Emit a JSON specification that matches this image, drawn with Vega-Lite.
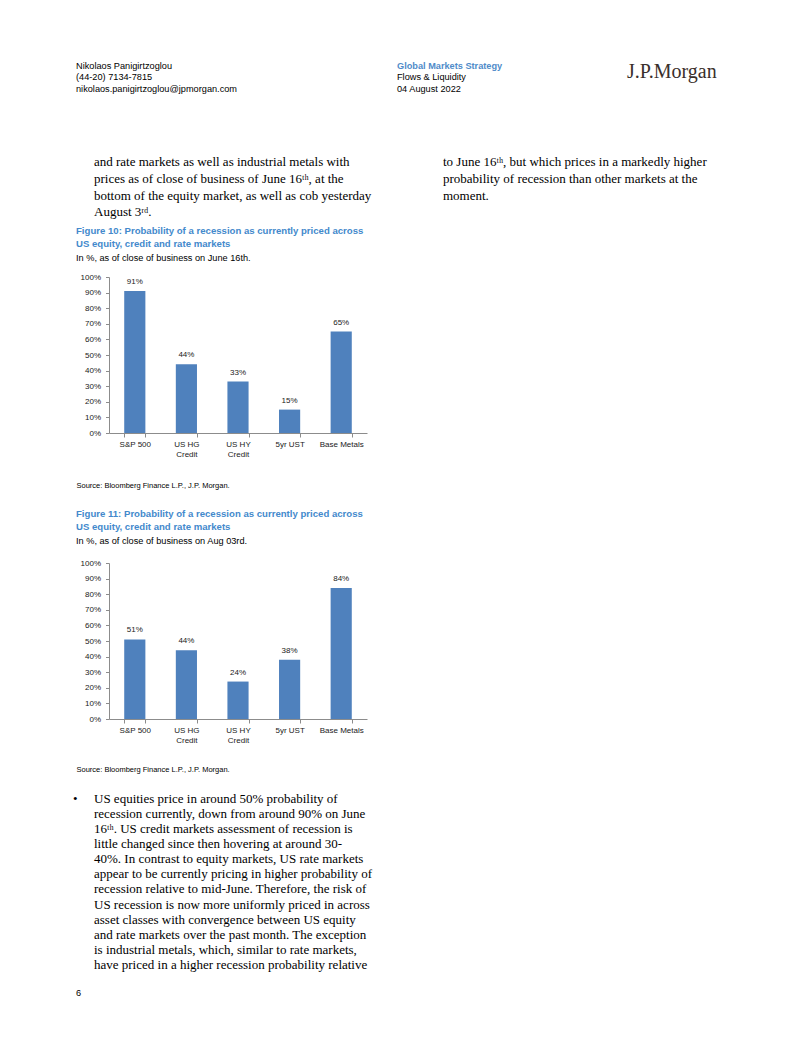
{
  "$schema": "https://vega.github.io/schema/vega-lite/v6.json",
  "background": "white",
  "autosize": {"type": "pad"},
  "padding": {"left": 73, "top": 61, "right": 5, "bottom": 5},
  "config": {
    "view": {"stroke": null},
    "font": "Liberation Sans",
    "title": {"anchor": "start", "frame": "group", "offset": 0, "color": "black", "fontWeight": "normal", "font": "Liberation Sans", "subtitleFont": "Liberation Sans"},
    "axis": {"labelFont": "Liberation Sans", "titleFont": "Liberation Sans", "labelColor": "#1a1a1a", "domainColor": "#8c8c8c", "tickColor": "#8c8c8c", "grid": false, "labelFontSize": 8}
  },
  "spacing": -10,
  "vconcat": [
    {
      "bounds": "flush",
      "spacing": 0,
      "hconcat": [
        {"width": 288, "height": 68, "data": {"values": [{}]}, "mark": "text",
         "title": {"text": ["Nikolaos Panigirtzoglou", "(44-20) 7134-7815", "nikolaos.panigirtzoglou@jpmorgan.com"], "fontSize": 9.2, "lineHeight": 11.5, "dx": -33}},
        {"width": 230, "height": 68, "data": {"values": [{}]}, "mark": "text",
         "title": {"text": "Global Markets Strategy", "color": "#4f8bc9", "fontWeight": "bold", "fontSize": 9.2, "subtitle": ["Flows & Liquidity", "04 August 2022"], "subtitleFontSize": 9.2, "subtitleColor": "black", "subtitleLineHeight": 12, "subtitlePadding": 1.5}},
        {"width": 100, "height": 68, "data": {"values": [{}]}, "mark": "text",
         "title": {"text": "J.P.Morgan", "font": "Liberation Serif", "fontSize": 20, "color": "#3a2f2b", "dy": -12}}
      ]
    },
    {
      "bounds": "flush",
      "spacing": 0,
      "hconcat": [
        {"width": 334, "height": 1, "data": {"values": [{}]}, "mark": "text",
         "title": {"text": ["and rate markets as well as industrial metals with", "prices as of close of business of June 16ᵗʰ, at the", "bottom of the equity market, as well as cob yesterday", "August 3ʳᵈ."], "font": "Liberation Serif", "fontSize": 13, "lineHeight": 16.7, "dx": -15}},
        {"width": 200, "height": 1, "data": {"values": [{}]}, "mark": "text",
         "title": {"text": ["to June 16ᵗʰ, but which prices in a markedly higher", "probability of recession than other markets at the", "moment."], "font": "Liberation Serif", "fontSize": 13, "lineHeight": 16.7, "dy": -16.7}}
      ]
    },
    {
      "spacing": 19,
      "vconcat": [
        {
          "width": 258, "height": 156,
          "title": {"text": ["Figure 10: Probability of a recession as currently priced across", "US equity, credit and rate markets"], "color": "#4389cc", "fontWeight": "bold", "fontSize": 9.6, "lineHeight": 13.3, "dx": -33, "subtitle": "In %, as of close of business on June 16th.", "subtitleColor": "black", "subtitleFontSize": 9.2, "subtitlePadding": 5, "offset": 10},
          "data": {"values": [
            {"market": "S&P 500", "prob": 0.91},
            {"market": "US HG Credit", "prob": 0.44},
            {"market": "US HY Credit", "prob": 0.33},
            {"market": "5yr UST", "prob": 0.15},
            {"market": "Base Metals", "prob": 0.65}
          ]},
          "encoding": {
            "x": {"field": "market", "type": "nominal", "sort": null,
                  "scale": {"paddingInner": 0.59, "paddingOuter": 0.295},
                  "axis": {"labelAngle": 0, "tickBand": "extent", "tickSize": 4, "labelPadding": 3, "labelLineHeight": 10.6,
                           "labelExpr": "datum.label == 'US HG Credit' ? ['US HG', 'Credit'] : datum.label == 'US HY Credit' ? ['US HY', 'Credit'] : datum.label",
                           "title": "Source: Bloomberg Finance L.P., J.P. Morgan.", "titleFontSize": 7.5, "titleFontWeight": "normal", "titleColor": "black",
                           "titleX": -33, "titleY": 48, "titleAlign": "left", "titleBaseline": "top", "titleAnchor": "start"}},
            "y": {"field": "prob", "type": "quantitative", "scale": {"domain": [0, 1]},
                  "axis": {"values": [0, 0.1, 0.2, 0.3, 0.4, 0.5, 0.6, 0.7, 0.8, 0.9, 1], "format": ".0%", "title": null, "tickSize": 3.5, "labelPadding": 5}}
          },
          "layer": [
            {"mark": {"type": "bar", "color": "#4f81bd"}},
            {"mark": {"type": "text", "baseline": "bottom", "dy": -5, "fontSize": 8, "color": "#1a1a1a"},
             "encoding": {"text": {"field": "prob", "format": ".0%"}}}
          ]
        },
        {
          "width": 258, "height": 156,
          "title": {"text": ["Figure 11: Probability of a recession as currently priced across", "US equity, credit and rate markets"], "color": "#4389cc", "fontWeight": "bold", "fontSize": 9.6, "lineHeight": 13.3, "dx": -33, "subtitle": "In %, as of close of business on Aug 03rd.", "subtitleColor": "black", "subtitleFontSize": 9.2, "subtitlePadding": 5, "offset": 13},
          "data": {"values": [
            {"market": "S&P 500", "prob": 0.51},
            {"market": "US HG Credit", "prob": 0.44},
            {"market": "US HY Credit", "prob": 0.24},
            {"market": "5yr UST", "prob": 0.38},
            {"market": "Base Metals", "prob": 0.84}
          ]},
          "encoding": {
            "x": {"field": "market", "type": "nominal", "sort": null,
                  "scale": {"paddingInner": 0.59, "paddingOuter": 0.295},
                  "axis": {"labelAngle": 0, "tickBand": "extent", "tickSize": 4, "labelPadding": 3, "labelLineHeight": 10.6,
                           "labelExpr": "datum.label == 'US HG Credit' ? ['US HG', 'Credit'] : datum.label == 'US HY Credit' ? ['US HY', 'Credit'] : datum.label",
                           "title": "Source: Bloomberg Finance L.P., J.P. Morgan.", "titleFontSize": 7.5, "titleFontWeight": "normal", "titleColor": "black",
                           "titleX": -33, "titleY": 46, "titleAlign": "left", "titleBaseline": "top", "titleAnchor": "start"}},
            "y": {"field": "prob", "type": "quantitative", "scale": {"domain": [0, 1]},
                  "axis": {"values": [0, 0.1, 0.2, 0.3, 0.4, 0.5, 0.6, 0.7, 0.8, 0.9, 1], "format": ".0%", "title": null, "tickSize": 3.5, "labelPadding": 5}}
          },
          "layer": [
            {"mark": {"type": "bar", "color": "#4f81bd"}},
            {"mark": {"type": "text", "baseline": "bottom", "dy": -5, "fontSize": 8, "color": "#1a1a1a"},
             "encoding": {"text": {"field": "prob", "format": ".0%"}}}
          ]
        },
        {
          "bounds": "flush",
          "spacing": 0,
          "hconcat": [
            {"width": 1, "height": 23, "data": {"values": [{}]}, "mark": "text",
             "title": {"text": "•", "font": "Liberation Serif", "fontSize": 13, "dx": -36, "dy": -166.1}},
            {"width": 300, "height": 23, "data": {"values": [{}]}, "mark": "text",
             "title": {"text": ["US equities price in around 50% probability of", "recession currently, down from around 90% on June", "16ᵗʰ. US credit markets assessment of recession is", "little changed since then hovering at around 30-", "40%. In contrast to equity markets, US rate markets", "appear to be currently pricing in higher probability of", "recession relative to mid-June. Therefore, the risk of", "US recession is now more uniformly priced in across", "asset classes with convergence between US equity", "and rate markets over the past month. The exception", "is industrial metals, which, similar to rate markets,", "have priced in a higher recession probability relative"], "font": "Liberation Serif", "fontSize": 13, "lineHeight": 15.1, "dx": -16}}
          ]
        }
      ]
    },
    {"width": 10, "height": 1, "data": {"values": [{}]}, "mark": "text",
     "title": {"text": "6", "fontSize": 9.2, "dx": -33}}
  ]
}
